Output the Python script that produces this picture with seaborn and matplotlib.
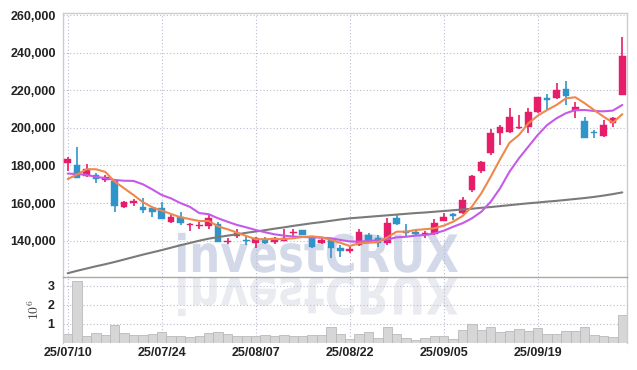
import numpy as np
import pandas as pd
import seaborn as sns
import matplotlib
matplotlib.use('Agg')
import matplotlib.pyplot as plt
from matplotlib.textpath import TextPath
from matplotlib.patches import PathPatch
from matplotlib.font_manager import FontProperties
from matplotlib.transforms import Affine2D

# trading days (Korean market, 08/15 holiday)
dates = pd.bdate_range('2025-07-10', '2025-10-02', freq='C', holidays=['2025-08-15'])
tick_pos = [0, 10, 20, 30, 40, 50]
tick_labels = [dates[i].strftime('%y/%m/%d') for i in tick_pos]

open_ = [181200, 180000, 174600, 175000, 172500, 171900, 158100, 160000, 157900, 157200,
         157200, 150100, 152500, 148200, 148000, 148000, 148800, 139500, 142700, 140400,
         138900, 140700, 139500, 139800, 143900, 145700, 142100, 138900, 140400, 136300,
         134700, 137700, 143000, 141600, 138600, 152200, 144800, 144800, 143400, 143600,
         150600, 154200, 154600, 167000, 177200, 186800, 197100, 198000, 199800, 200600,
         208600, 215700, 215700, 220700, 209200, 203700, 197700, 195900, 202800, 217500]
high = [184400, 190000, 181000, 175900, 175000, 172300, 161300, 162000, 162500, 157400,
        160700, 153700, 155100, 149300, 150100, 154200, 149900, 141600, 146100, 142500,
        142100, 142100, 142100, 146200, 146100, 145700, 142500, 141600, 140700, 137700,
        137200, 146100, 143900, 143000, 152200, 153700, 148900, 145000, 145200, 151400,
        154600, 154900, 163400, 175000, 182600, 199300, 201500, 210400, 206900, 210400,
        216600, 218000, 223700, 224900, 213900, 206000, 198900, 204200, 206000, 248200]
low = [177200, 173400, 174000, 170500, 171400, 155400, 157200, 158500, 154900, 152500,
       151300, 149600, 148400, 145300, 146200, 146200, 139300, 138200, 141300, 137700,
       136000, 138200, 138100, 139800, 142700, 142800, 136300, 138200, 130600, 131200,
       133600, 137300, 139500, 136800, 137700, 148400, 142500, 143300, 141600, 143000,
       150600, 151000, 154200, 166100, 175900, 185600, 190900, 197100, 199300, 197100,
       208100, 209500, 215200, 212200, 205100, 194500, 194800, 195300, 200600, 217500]
close = [183500, 173500, 178000, 172800, 174000, 158600, 160400, 161100, 156300, 155300,
         151500, 152500, 149600, 148900, 148500, 151900, 139500, 140000, 144100, 139800,
         141300, 138900, 141600, 141300, 144800, 143000, 136800, 140400, 136300, 134500,
         135400, 144800, 139800, 138900, 149300, 148700, 144300, 143400, 143900, 149300,
         152500, 153300, 161700, 174400, 181900, 197400, 200600, 206000, 200600, 208600,
         216300, 215000, 220200, 217100, 211300, 194800, 197100, 201500, 205100, 238200]

ma5 = [172800, 175200, 178000, 178000, 176600, 171400, 167900, 164300, 160500, 157800,
       156000, 154200, 152500, 151500, 150500, 150500, 147600, 146100, 144300, 142500,
       140800, 140800, 140900, 140900, 141300, 142000, 142300, 141800, 140400, 138900,
       137200, 138600, 138900, 139300, 141800, 144800, 144800, 145700, 146100, 146600,
       148000, 150100, 153100, 158100, 165200, 174000, 183300, 192100, 196200, 202400,
       206500, 209500, 212200, 215700, 216300, 213100, 209500, 206000, 202800, 207300]
ma10 = [175700, 175500, 175000, 174000, 173200, 172300, 171900, 171800, 170000, 167300,
        164300, 162500, 160000, 158000, 154700, 154100, 151900, 150100, 148400, 147100,
        145700, 144500, 143400, 142700, 142200, 142000, 141800, 141600, 141300, 140400,
        139600, 139500, 139800, 140300, 140700, 141800, 142100, 142700, 143000, 143900,
        145300, 147400, 149300, 151900, 155400, 160700, 167900, 176700, 183800, 190000,
        196200, 201500, 205100, 207800, 209500, 209500, 209000, 208800, 209200, 212200]
ma_long = [122700, 124000, 125200, 126400, 127500, 128700, 130000, 131300, 132600, 133800,
           135000, 136300, 137600, 138800, 140000, 141100, 141900, 142700, 143400, 144200,
           144900, 145600, 146400, 147100, 147900, 148600, 149300, 149900, 150600, 151300,
           151900, 152300, 152700, 153100, 153500, 153900, 154300, 154700, 155000, 155400,
           155800, 156200, 156600, 157000, 157500, 157900, 158400, 158900, 159400, 159900,
           160300, 160800, 161200, 161700, 162200, 162700, 163300, 164000, 164800, 165700]

# volume, millions of shares
volume_m = [0.46, 3.23, 0.37, 0.52, 0.43, 0.96, 0.52, 0.41, 0.41, 0.46,
            0.57, 0.37, 0.37, 0.32, 0.37, 0.52, 0.57, 0.46, 0.37, 0.37,
            0.37, 0.43, 0.37, 0.43, 0.37, 0.37, 0.43, 0.43, 0.85, 0.46,
            0.21, 0.46, 0.57, 0.25, 0.84, 0.46, 0.25, 0.18, 0.25, 0.36,
            0.36, 0.20, 0.67, 0.99, 0.67, 0.84, 0.57, 0.62, 0.73, 0.62,
            0.78, 0.46, 0.46, 0.62, 0.62, 0.84, 0.41, 0.39, 0.32, 1.47]

PINK = '#e61e6a'
BLUE = '#2f95c9'
GRID = '#b8bcd0'
EDGE = '#c9ccd6'

sns.set_theme(style='white')
plt.rcParams['font.family'] = ['Liberation Sans', 'DejaVu Sans']
plt.rcParams['mathtext.fontset'] = 'cm'

df = pd.DataFrame({'i': np.arange(len(dates)), 'open': open_, 'high': high,
                   'low': low, 'close': close, 'ma5': ma5, 'ma10': ma10,
                   'ma_long': ma_long, 'vol': volume_m})

fig = plt.figure(figsize=(6.37, 3.70), dpi=100)
ax = fig.add_axes([63 / 637, 93 / 370, 564 / 637, 264 / 370])
axv = fig.add_axes([63 / 637, 27 / 370, 564 / 637, 66 / 370], sharex=ax)

# candles
up = df['close'] >= df['open']
cols = np.where(up, PINK, BLUE)
ax.vlines(df['i'], df['low'], df['high'], colors=cols, lw=1.2, zorder=2)
diff = (df['close'] - df['open']).abs()
h = np.maximum(diff, 700)
bottom = np.where(diff < 700, (df['open'] + df['close']) / 2 - 350,
                  np.minimum(df['open'], df['close']))
ax.bar(df['i'], h, bottom=bottom, width=0.72, color=cols, edgecolor=cols, lw=0.3, zorder=3)

# moving averages
sns.lineplot(data=df, x='i', y='ma_long', ax=ax, color='#7a7a7a', lw=1.5, zorder=4)
sns.lineplot(data=df, x='i', y='ma10', ax=ax, color='#c65ae8', lw=1.5, zorder=4)
sns.lineplot(data=df, x='i', y='ma5', ax=ax, color='#f0874c', lw=1.5, zorder=4)

# volume
sns.barplot(data=df, x='i', y='vol', ax=axv, native_scale=True, width=1.0,
            color='#d6d6d6', edgecolor='#b9b9b9', linewidth=0.6, saturation=1, zorder=2)

# watermark and its reflection
fp = FontProperties(family='DejaVu Sans', weight='bold')
tp = TextPath((0, 0), 'investCRUX', size=100, prop=fp)
ext = tp.get_extents()
cap = TextPath((0, 0), 'C', size=100, prop=fp).get_extents().height
sx, sy = 280 / ext.width, 39 / cap
wm = PathPatch(tp, transform=Affine2D().translate(-ext.x0, 0).scale(sx, sy).translate(178, 98),
               fc='#d3d9e8', ec='none', zorder=0.3)
ax.add_artist(wm)
wm2 = PathPatch(tp, transform=Affine2D().translate(-ext.x0, 0).scale(sx, -sy).translate(178, 93),
                fc='#e9ebf1', ec='none', zorder=0.3)
axv.add_artist(wm2)

for a in (ax, axv):
    a.set_facecolor('white')
    a.grid(True, color=GRID, ls=(0, (1, 2)), lw=0.8)
    a.set_axisbelow(True)
    for s in a.spines.values():
        s.set_color(EDGE)
        s.set_linewidth(1)
    a.set_xlabel('')
    a.set_ylabel('')
    a.tick_params(length=0, labelsize=9, labelcolor='#222222')

# divider between price and volume panels
ax.spines['bottom'].set_visible(False)
axv.spines['top'].set_color('#a8a8a8')
axv.spines['bottom'].set_visible(False)

ax.set_xlim(-0.5, len(dates) - 0.5)
ax.set_ylim(120700, 261100)
yt = list(range(140000, 260001, 20000))
ax.set_yticks(yt)
ax.set_yticklabels([f'{v:,}' for v in yt], fontweight='bold')
ax.tick_params(axis='y', pad=5)
ax.tick_params(axis='x', labelbottom=False)

axv.set_ylim(0, 3.46)
axv.set_yticks([1, 2, 3])
axv.set_yticklabels(['1', '2', '3'], fontweight='bold')
axv.tick_params(axis='y', pad=6)
axv.set_xticks(tick_pos)
axv.set_xticklabels(tick_labels, fontweight='bold')
axv.tick_params(axis='x', pad=3)
axv.set_ylabel('$10^{6}$', fontsize=10, color='#444444', labelpad=4)

fig.savefig('out.png', dpi=100)
